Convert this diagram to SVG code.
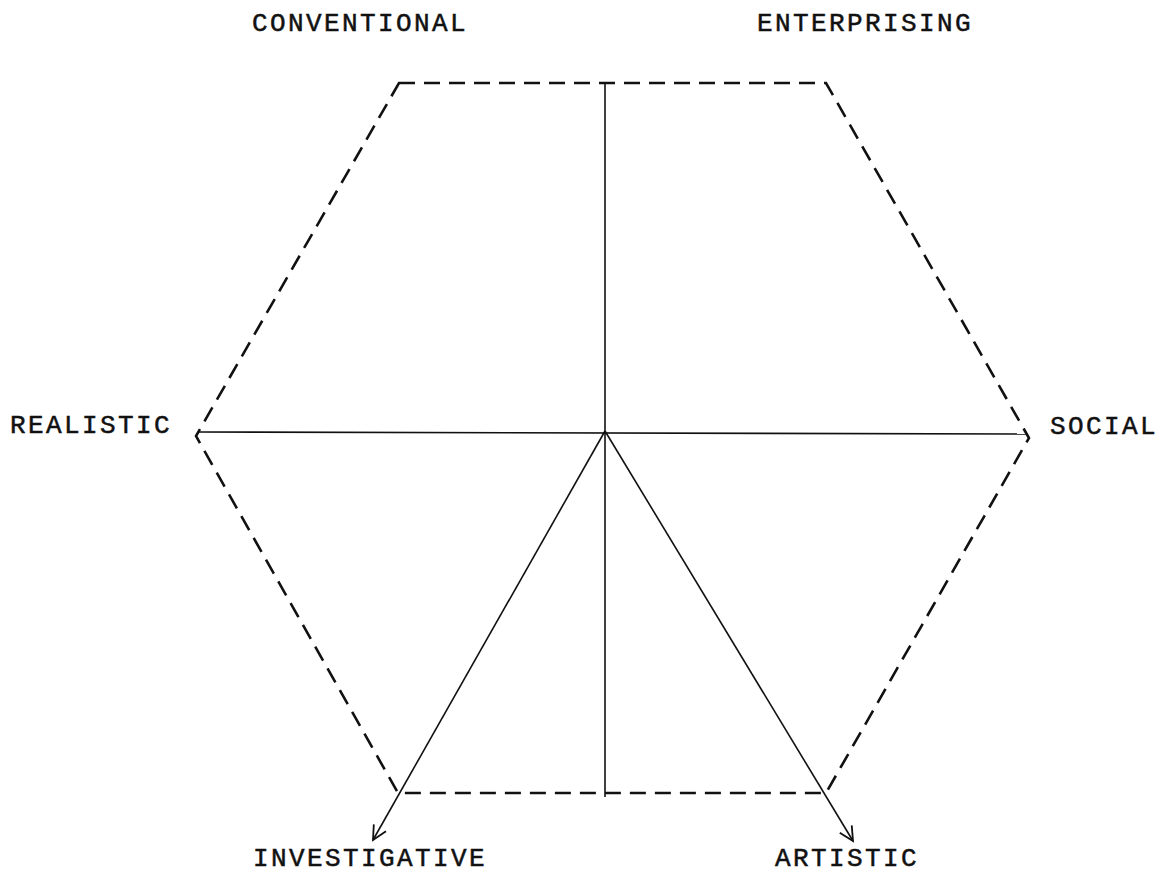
<svg xmlns="http://www.w3.org/2000/svg" width="1163" height="873" viewBox="0 0 1163 873">
<style>
.lbl{font-family:"Liberation Mono","Courier New",monospace;font-size:26px;letter-spacing:2.4px;fill:#111;stroke:#111;stroke-width:0.5}
.dash{fill:none;stroke:#111;stroke-width:2.6;stroke-dasharray:16 9}
.solid{fill:none;stroke:#111;stroke-width:1.6}
</style>
<defs>
<marker id="arr" viewBox="0 0 20 20" refX="18" refY="10" markerWidth="20" markerHeight="20" markerUnits="userSpaceOnUse" orient="auto">
<path d="M4,3 L18,10 L4,17" fill="none" stroke="#111" stroke-width="1.8"/>
</marker>
</defs>
<rect width="1163" height="873" fill="#fff"/>
<g id="hexagon">
<polygon class="dash" points="399,83 826,83 1029,438 826,793 398,793 196,436"/>
</g>
<g id="connectors">
<line class="solid" x1="605" y1="83" x2="605" y2="797"/>
<line class="solid" x1="198" y1="432" x2="1026" y2="434"/>
<line class="solid" x1="605" y1="431" x2="373" y2="840" marker-end="url(#arr)"/>
<line class="solid" x1="605" y1="431" x2="853" y2="841" marker-end="url(#arr)"/>
</g>
<g id="node-conventional"><text class="lbl" x="252" y="31">CONVENTIONAL</text></g>
<g id="node-enterprising"><text class="lbl" x="757" y="31">ENTERPRISING</text></g>
<g id="node-realistic"><text class="lbl" x="10" y="433">REALISTIC</text></g>
<g id="node-social"><text class="lbl" x="1050" y="434">SOCIAL</text></g>
<g id="node-investigative"><text class="lbl" x="253" y="866">INVESTIGATIVE</text></g>
<g id="node-artistic"><text class="lbl" x="775" y="866">ARTISTIC</text></g>
</svg>
